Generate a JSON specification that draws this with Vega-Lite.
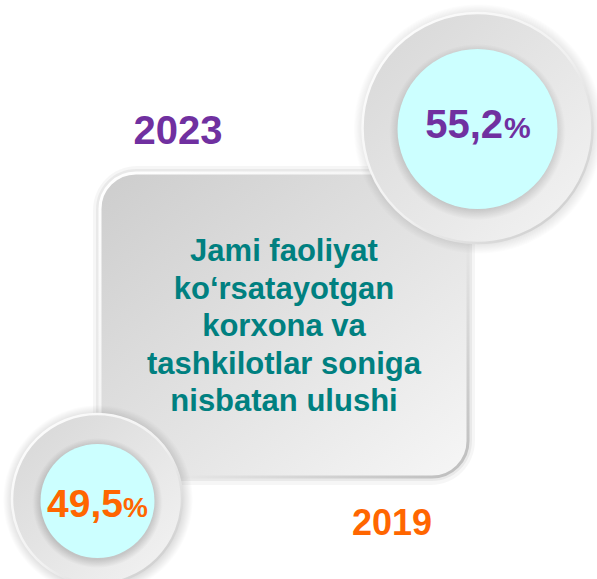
{
  "$schema": "https://vega.github.io/schema/vega-lite/v6.json",
  "width": 597,
  "height": 579,
  "autosize": {"type": "fit", "contains": "padding"},
  "padding": 0,
  "background": "white",
  "config": {
    "view": {"stroke": null},
    "locale": {"number": {"decimal": ",", "thousands": " ", "grouping": [3], "currency": ["", ""]}}
  },
  "datasets": {
    "panel": [{"caption": "Jami faoliyat\nko‘rsatayotgan\nkorxona va\ntashkilotlar soniga\nnisbatan ulushi"}],
    "shares": [{"year": "2019", "share": 49.5}, {"year": "2023", "share": 55.2}]
  },
  "layer": [
    {
      "data": {"name": "panel"},
      "mark": {"type": "rect", "cornerRadius": 44, "fill": "#000000", "opacity": 0.035},
      "encoding": {
        "x": {"field": "caption", "type": "nominal", "axis": null, "scale": {"range": [93, 475], "paddingInner": 0, "paddingOuter": 0}},
        "y": {"field": "caption", "type": "nominal", "axis": null, "scale": {"range": [166, 485], "paddingInner": 0, "paddingOuter": 0}}
      }
    },
    {
      "data": {"name": "panel"},
      "mark": {"type": "rect", "cornerRadius": 40, "fill": "#000000", "opacity": 0.05},
      "encoding": {
        "x": {"field": "caption", "type": "nominal", "axis": null, "scale": {"range": [96, 472], "paddingInner": 0, "paddingOuter": 0}},
        "y": {"field": "caption", "type": "nominal", "axis": null, "scale": {"range": [169, 481], "paddingInner": 0, "paddingOuter": 0}}
      }
    },
    {
      "data": {"name": "panel"},
      "mark": {
        "type": "rect",
        "cornerRadius": 36,
        "strokeWidth": 3,
        "fill": {"gradient": "linear", "x1": 0, "y1": 0, "x2": 1, "y2": 1, "stops": [{"offset": 0, "color": "#cdcdcd"}, {"offset": 1, "color": "#f6f6f6"}]},
        "stroke": {"gradient": "linear", "x1": 0, "y1": 0, "x2": 1, "y2": 1, "stops": [{"offset": 0, "color": "#ffffff"}, {"offset": 0.5, "color": "#f2f2f2"}, {"offset": 1, "color": "#bdbdbd"}]}
      },
      "encoding": {
        "x": {"field": "caption", "type": "nominal", "axis": null, "scale": {"range": [100, 468], "paddingInner": 0, "paddingOuter": 0}},
        "y": {"field": "caption", "type": "nominal", "axis": null, "scale": {"range": [173, 477], "paddingInner": 0, "paddingOuter": 0}}
      }
    },
    {
      "data": {"name": "shares"},
      "mark": {
        "type": "circle", "opacity": 1,
        "fill": {"gradient": "radial", "x1": 0.5, "y1": 0.5, "r1": 0, "x2": 0.5, "y2": 0.5, "r2": 0.5, "stops": [{"offset": 0, "color": "rgba(0,0,0,0.16)"}, {"offset": 0.9, "color": "rgba(0,0,0,0.12)"}, {"offset": 1, "color": "rgba(0,0,0,0)"}]}
      },
      "encoding": {
        "x": {"field": "year", "type": "nominal", "axis": null, "scale": {"type": "point", "padding": 0, "domain": ["2019", "2023"], "range": [98, 478.5]}},
        "y": {"field": "year", "type": "nominal", "axis": null, "scale": {"type": "point", "padding": 0, "domain": ["2019", "2023"], "range": [500, 129]}},
        "size": {"field": "year", "type": "ordinal", "legend": null, "scale": {"type": "point", "padding": 0, "domain": ["2019", "2023"], "range": [36100, 62500]}}
      }
    },
    {
      "data": {"name": "shares"},
      "mark": {
        "type": "circle", "opacity": 1, "strokeWidth": 2.5,
        "fill": {"gradient": "linear", "x1": 0, "y1": 0, "x2": 1, "y2": 1, "stops": [{"offset": 0, "color": "#d6d6d6"}, {"offset": 1, "color": "#f4f4f4"}]},
        "stroke": {"gradient": "linear", "x1": 0, "y1": 0, "x2": 1, "y2": 1, "stops": [{"offset": 0, "color": "#ffffff"}, {"offset": 0.55, "color": "#f0f0f0"}, {"offset": 1, "color": "#c4c4c4"}]}
      },
      "encoding": {
        "x": {"field": "year", "type": "nominal", "axis": null, "scale": {"type": "point", "padding": 0, "domain": ["2019", "2023"], "range": [97, 477.5]}},
        "y": {"field": "year", "type": "nominal", "axis": null, "scale": {"type": "point", "padding": 0, "domain": ["2019", "2023"], "range": [499, 128]}},
        "size": {"field": "year", "type": "ordinal", "legend": null, "scale": {"type": "point", "padding": 0, "domain": ["2019", "2023"], "range": [28900, 52900]}}
      }
    },
    {
      "data": {"name": "shares"},
      "mark": {
        "type": "circle", "opacity": 1,
        "fill": {"gradient": "radial", "x1": 0.5, "y1": 0.5, "r1": 0, "x2": 0.5, "y2": 0.5, "r2": 0.5, "stops": [{"offset": 0, "color": "rgba(0,0,0,0.22)"}, {"offset": 0.87, "color": "rgba(0,0,0,0.16)"}, {"offset": 1, "color": "rgba(0,0,0,0)"}]}
      },
      "encoding": {
        "x": {"field": "year", "type": "nominal", "axis": null, "scale": {"type": "point", "padding": 0, "domain": ["2019", "2023"], "range": [97.5, 477.5]}},
        "y": {"field": "year", "type": "nominal", "axis": null, "scale": {"type": "point", "padding": 0, "domain": ["2019", "2023"], "range": [503, 132]}},
        "size": {"field": "year", "type": "ordinal", "legend": null, "scale": {"type": "point", "padding": 0, "domain": ["2019", "2023"], "range": [16900, 30976]}}
      }
    },
    {
      "data": {"name": "shares"},
      "mark": {"type": "circle", "opacity": 1, "fill": "#ccffff"},
      "encoding": {
        "x": {"field": "year", "type": "nominal", "axis": null, "scale": {"type": "point", "padding": 0, "domain": ["2019", "2023"], "range": [97.5, 477.5]}},
        "y": {"field": "year", "type": "nominal", "axis": null, "scale": {"type": "point", "padding": 0, "domain": ["2019", "2023"], "range": [501, 129]}},
        "size": {"field": "year", "type": "ordinal", "legend": null, "scale": {"type": "point", "padding": 0, "domain": ["2019", "2023"], "range": [12996, 25600]}}
      }
    },
    {
      "data": {"name": "panel"},
      "mark": {"type": "text", "font": "Liberation Sans", "fontWeight": "bold", "fontSize": 31, "color": "#008080", "align": "center", "baseline": "middle", "lineBreak": "\n", "lineHeight": 37.5, "dy": -73},
      "encoding": {
        "text": {"field": "caption"},
        "x": {"field": "caption", "type": "nominal", "axis": null, "scale": {"range": [100, 468], "paddingInner": 0, "paddingOuter": 0}},
        "y": {"field": "caption", "type": "nominal", "axis": null, "scale": {"range": [173, 477], "paddingInner": 0, "paddingOuter": 0}}
      }
    },
    {
      "data": {"name": "shares"},
      "mark": {"type": "text", "font": "Liberation Sans", "fontWeight": "bold", "align": "center", "baseline": "alphabetic"},
      "encoding": {
        "text": {"field": "year"},
        "x": {"field": "year", "type": "nominal", "axis": null, "scale": {"type": "point", "padding": 0, "domain": ["2019", "2023"], "range": [392, 178]}},
        "y": {"field": "year", "type": "nominal", "axis": null, "scale": {"type": "point", "padding": 0, "domain": ["2019", "2023"], "range": [535, 144]}},
        "size": {"field": "year", "type": "ordinal", "legend": null, "scale": {"type": "point", "padding": 0, "domain": ["2019", "2023"], "range": [36, 40]}},
        "color": {"field": "year", "type": "nominal", "legend": null, "scale": {"domain": ["2019", "2023"], "range": ["#ff6600", "#7030a0"]}}
      }
    },
    {
      "data": {"name": "shares"},
      "mark": {"type": "text", "font": "Liberation Sans", "fontWeight": "bold", "align": "right", "baseline": "alphabetic"},
      "encoding": {
        "text": {"field": "share", "type": "quantitative", "format": ".1f"},
        "x": {"field": "year", "type": "nominal", "axis": null, "scale": {"type": "point", "padding": 0, "domain": ["2019", "2023"], "range": [123, 503]}},
        "y": {"field": "year", "type": "nominal", "axis": null, "scale": {"type": "point", "padding": 0, "domain": ["2019", "2023"], "range": [517, 138]}},
        "size": {"field": "year", "type": "ordinal", "legend": null, "scale": {"type": "point", "padding": 0, "domain": ["2019", "2023"], "range": [39, 40]}},
        "color": {"field": "year", "type": "nominal", "legend": null, "scale": {"domain": ["2019", "2023"], "range": ["#ff6600", "#7030a0"]}}
      }
    },
    {
      "data": {"name": "shares"},
      "mark": {"type": "text", "font": "Liberation Sans", "fontWeight": "bold", "align": "left", "baseline": "alphabetic", "text": "%"},
      "encoding": {
        "x": {"field": "year", "type": "nominal", "axis": null, "scale": {"type": "point", "padding": 0, "domain": ["2019", "2023"], "range": [123, 504]}},
        "y": {"field": "year", "type": "nominal", "axis": null, "scale": {"type": "point", "padding": 0, "domain": ["2019", "2023"], "range": [517, 138]}},
        "size": {"field": "year", "type": "ordinal", "legend": null, "scale": {"type": "point", "padding": 0, "domain": ["2019", "2023"], "range": [28, 30]}},
        "color": {"field": "year", "type": "nominal", "legend": null, "scale": {"domain": ["2019", "2023"], "range": ["#ff6600", "#7030a0"]}}
      }
    }
  ],
  "resolve": {"scale": {"x": "independent", "y": "independent", "size": "independent", "color": "independent"}}
}
